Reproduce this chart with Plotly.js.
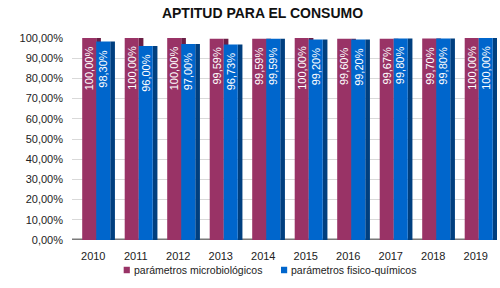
<!DOCTYPE html>
<html><head><meta charset="utf-8">
<script src="https://cdn.plot.ly/plotly-3.0.1.min.js"></script>
<style>body{margin:0;background:#fff}#c{width:500px;height:288px}</style>
</head><body><div id="c"></div>
<script>
const years = ['2010','2011','2012','2013','2014','2015','2016','2017','2018','2019'];
const micro = [100.00, 100.00, 100.00, 99.59, 99.59, 100.00, 99.60, 99.67, 99.70, 100.00];
const fisico = [98.30, 96.00, 97.00, 96.73, 99.59, 99.20, 99.20, 99.80, 99.80, 100.00];
const seriesNames = ['parámetros microbiológicos', 'parámetros fisico-químicos'];
const seriesColors = ['#993366', '#0066cc'];
const tickVals = [0,0.1,0.2,0.3,0.4,0.5,0.6,0.7,0.8,0.9,1.0];

const FONT = 'Liberation Sans, Arial, sans-serif';
const BW = 0.33;
function bar(vals, name, color, offset, width) {
  return {
    type: 'bar', x: years, y: vals.map(v => v / 100), name: name,
    offset: offset, width: width, showlegend: false,
    marker: {color: color, line: {width: 0}}, hoverinfo: 'skip'
  };
}
const data = [
  bar(micro, seriesNames[0] + ' (lado)', '#6b1f45', -0.26 + BW, 0.11),
  bar(micro, seriesNames[0], seriesColors[0], -0.26, BW),
  bar(fisico, seriesNames[1] + ' (lado)', '#003f7f', 0.07 + BW, 0.11),
  bar(fisico, seriesNames[1], seriesColors[1], 0.07, BW)
];
const fmt = v => v.toFixed(2).replace('.', ',') + '%';
const annotations = [];
years.forEach((yr, i) => {
  annotations.push({x: i, y: micro[i] / 100, xref: 'x', yref: 'y', text: fmt(micro[i]), showarrow: false,
    textangle: -90, xanchor: 'center', yanchor: 'top', xshift: -4, yshift: -6,
    font: {color: '#ffffff', size: 11, family: FONT}});
  annotations.push({x: i, y: fisico[i] / 100, xref: 'x', yref: 'y', text: fmt(fisico[i]), showarrow: false,
    textangle: -90, xanchor: 'center', yanchor: 'top', xshift: 10, yshift: -6,
    font: {color: '#ffffff', size: 11, family: FONT}});
});
// legend (custom, compact like the reference)
const legX = [0.1216, 0.4918];   // left edges of legend squares (paper)
const legY = -0.1485;
const shapes = [
  {type: 'line', xref: 'paper', yref: 'y', x0: 0, x1: 1, y0: 0, y1: 0, line: {color: '#7a7a7a', width: 3}, layer: 'below'}
];
seriesNames.forEach((n, k) => {
  shapes.push({type: 'rect', xref: 'paper', yref: 'paper', x0: legX[k], x1: legX[k] + 0.0145,
    y0: legY - 0.016, y1: legY + 0.016, fillcolor: seriesColors[k], line: {width: 0}});
  annotations.push({xref: 'paper', yref: 'paper', x: legX[k] + 0.019, y: legY, xanchor: 'left', yanchor: 'middle',
    text: n, showarrow: false, font: {size: 10.5, color: '#222', family: FONT}});
});
const layout = {
  width: 500, height: 288,
  margin: {l: 72, r: 3, t: 38, b: 48, autoexpand: false},
  separators: ',.',
  paper_bgcolor: '#ffffff', plot_bgcolor: '#ffffff',
  font: {family: FONT, size: 11, color: '#222'},
  title: {text: '<b>APTITUD PARA EL CONSUMO</b>', x: 0.525, xanchor: 'center', y: 0.955, yanchor: 'middle',
          font: {size: 14, color: '#111', family: FONT}},
  barmode: 'overlay',
  xaxis: {type: 'category', range: [-0.5, 9.5], showgrid: false, showline: false, zeroline: false, ticks: '',
          tickfont: {size: 11}, ticklabelstandoff: 8},
  yaxis: {range: [0, 1.0], tickvals: tickVals, tickformat: '.2%', showgrid: true, gridcolor: '#d9d9d9',
          gridwidth: 1, zeroline: false, showline: false, ticks: '', tickfont: {size: 11}, ticklabelstandoff: 8},
  showlegend: false,
  annotations: annotations,
  shapes: shapes
};
Plotly.newPlot('c', data, layout, {displayModeBar: false, staticPlot: true});
</script></body></html>
